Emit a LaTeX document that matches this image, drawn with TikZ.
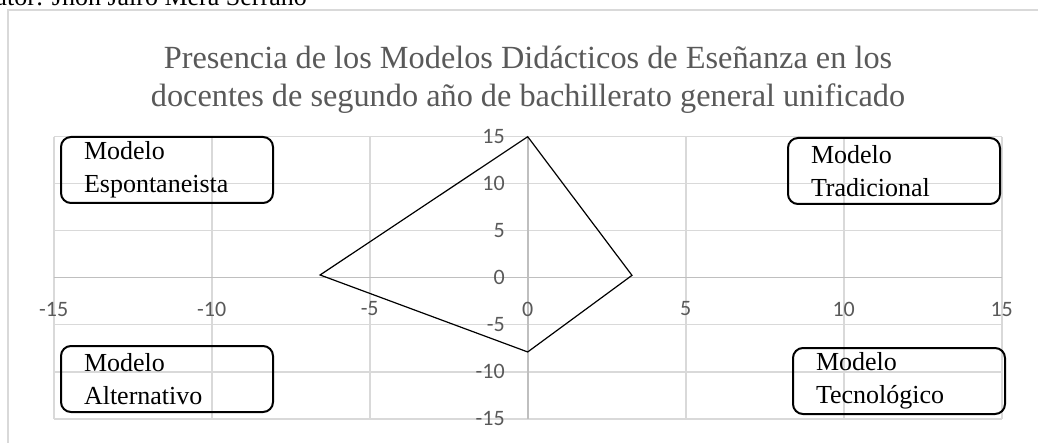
\documentclass[tikz,border=0pt]{standalone}
\usepackage{fontspec}
\setmainfont{Liberation Serif}
\newfontfamily\axisfont{Carlito}
\definecolor{gridgray}{HTML}{D9D9D9}
\definecolor{axisgray}{HTML}{BFBFBF}
\definecolor{labelgray}{HTML}{595959}
\tikzset{
    gridline/.style={gridgray, line width=1.6pt},
    axisline/.style={axisgray, line width=1.6pt},
    ticklabel/.style={labelgray, inner sep=0pt, font=\axisfont\fontsize{22}{24}\selectfont},
    modelbox/.style={draw=black, line width=2pt, rounded corners=10pt, anchor=north west,
        minimum width=212pt, minimum height=66pt, text width=166pt, align=left,
        inner xsep=23pt, inner ysep=0pt, font=\fontsize{26}{33}\selectfont}
}
\begin{document}
\begin{tikzpicture}[x=1pt, y=-1pt]
    \useasboundingbox (0,0) rectangle (1038,443);
    % Author line and chart frame, cut by the page
    \begin{scope}
        \clip (0,0) rectangle (1038,443);
        \node[anchor=base east, inner sep=0pt, font=\fontsize{26}{30}\selectfont] (autor) at (307,6) {Autor: Jhon Jairo Mera Serrano};
        \draw[gridline] (1045,10) -- (8,10) -- (8,450);
    \end{scope}
    % Title
    \node[labelgray, anchor=north, align=center, inner sep=0pt, font=\fontsize{32.3}{38}\selectfont] (title) at (528,46)
        {Presencia de los Modelos Didácticos de Eseñanza en los\\docentes de segundo año de bachillerato general unificado};
    % Chart area in data units
    \begin{scope}[shift={(527.7,277.7)}, x=31.6pt, y=9.4pt]
        % Draw the grid
        \foreach \v in {-15,-10,...,15} {
                \draw[gridline] (-15,\v) -- (15,\v);
                \draw[gridline] (\v,-15) -- (\v,15);
            }
        % Draw the axes
        \draw[axisline] (-15,0) -- (15,0);
        \draw[axisline] (0,-15) -- (0,15);
        % Tick labels
        \foreach \v [count=\i] in {-15,-10,...,15} {
                \node[ticklabel, anchor=east] (ylab\i) at (-0.72,\v) {\v};
                \node[ticklabel] (xlab\i) at (\v,-3.33) {\v};
            }
        % Draw the quadrilateral
        \coordinate (Top) at (0,15);
        \coordinate (Right) at (3.3,0.25);
        \coordinate (Bottom) at (0,-7.9);
        \coordinate (Left) at (-6.57,0.29);
        \draw[black, line width=1.2pt, line join=miter] (Top) -- (Right) -- (Bottom) -- (Left) -- cycle;
    \end{scope}
    % Model boxes
    \node[modelbox] (espontaneista) at (60,136) {Modelo\\Espontaneista};
    \node[modelbox] (tradicional) at (787,137) {Modelo\\Tradicional};
    \node[modelbox] (alternativo) at (60,345) {Modelo\\Alternativo};
    \node[modelbox, minimum width=210pt] (tecnologico) at (792,347) {Modelo\\Tecnológico};
\end{tikzpicture}
\end{document}
